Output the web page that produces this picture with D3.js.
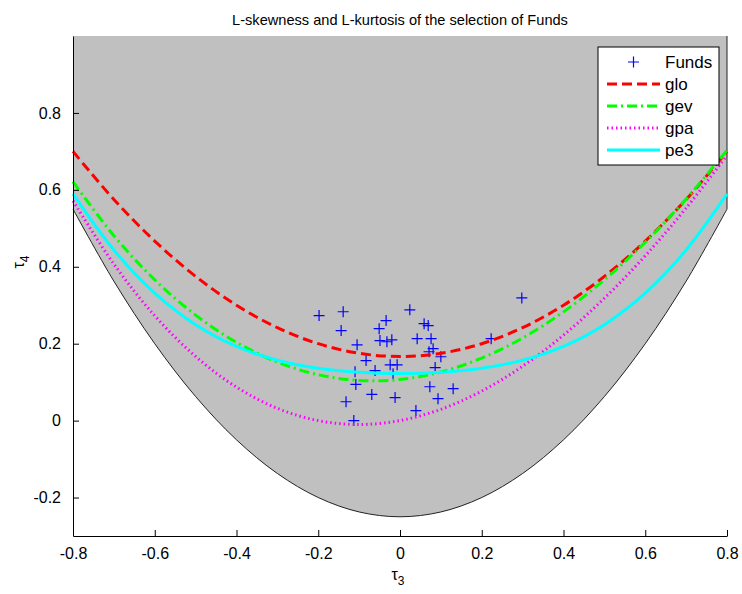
<!DOCTYPE html>
<html><head><meta charset="utf-8">
<script src="https://cdn.jsdelivr.net/npm/d3@7"></script>
<style>
body{margin:0;background:#fff;}
text{font-family:"Liberation Sans Narrow","Liberation Sans",Arial,sans-serif;fill:#000;}
</style></head>
<body><svg id="c" width="742" height="594"></svg>
<script>
// tau3 grid for the theoretical curves
const tau3Grid = [-0.8,-0.7,-0.6,-0.5,-0.4,-0.3,-0.2,-0.1,0,0.1,0.2,0.3,0.4,0.5,0.6,0.7,0.8];
// lower bound of tau4
const boundVals = [0.55,0.3625,0.2,0.0625,-0.05,-0.1375,-0.2,-0.2375,-0.25,-0.2375,-0.2,-0.1375,-0.05,0.0625,0.2,0.3625,0.55];
const gloVals = [0.7,0.575,0.4667,0.375,0.3,0.2417,0.2,0.175,0.1667,0.175,0.2,0.2417,0.3,0.375,0.4667,0.575,0.7];
const gevVals = [0.6214,0.4808,0.3661,0.2743,0.2034,0.1521,0.1193,0.1045,0.1070,0.1265,0.1626,0.2148,0.2827,0.3659,0.4638,0.5762,0.7030];
const gpaVals = [0.5714,0.4070,0.2727,0.1667,0.0870,0.0319,0.0,-0.0102,0.0,0.0294,0.0769,0.1415,0.2222,0.3182,0.4286,0.5526,0.6897];
const pe3Vals = [0.5894,0.4436,0.3314,0.2494,0.1929,0.1569,0.1359,0.1255,0.1224,0.1255,0.1359,0.1569,0.1929,0.2494,0.3314,0.4436,0.5894];
// Funds sample L-moment ratios
const fundsT3 = [-0.198,-0.139,-0.144,-0.105,-0.034,-0.051,0.024,0.059,0.069,-0.049,-0.032,-0.020,0.042,0.076,0.081,0.071,0.100,-0.083,-0.024,-0.007,0.086,0.223,0.298,-0.110,-0.061,-0.017,-0.108,-0.069,-0.012,0.073,0.130,-0.132,0.093,0.039,-0.113];
const fundsT4 = [0.273,0.283,0.234,0.197,0.260,0.239,0.288,0.252,0.247,0.208,0.205,0.210,0.213,0.213,0.187,0.179,0.166,0.156,0.145,0.145,0.138,0.213,0.319,0.127,0.130,0.122,0.094,0.068,0.060,0.088,0.083,0.049,0.057,0.026,0.000];
const xTicks = [-0.8,-0.6,-0.4,-0.2,0,0.2,0.4,0.6,0.8];
const yTicks = [-0.2,0,0.2,0.4,0.6,0.8];
const series = [
  {name:"glo", vals:gloVals, color:"#ff0000", width:3, dash:"10,5"},
  {name:"gev", vals:gevVals, color:"#00ff00", width:3, dash:"10,4,2,4"},
  {name:"gpa", vals:gpaVals, color:"#ff00ff", width:3, dash:"1.5,3"},
  {name:"pe3", vals:pe3Vals, color:"#00ffff", width:3, dash:null}
];

const FONT = '"Liberation Sans Narrow","Liberation Sans",Arial,sans-serif';
const svg = d3.select("#c");
const L=73, R=727, T=36, B=536;
const x = d3.scaleLinear().domain([-0.8,0.8]).range([L,R]);
const y = d3.scaleLinear().domain([-0.3,1.0]).range([B,T]);

// gray feasible region
const pts = tau3Grid.map((t,i)=>[t,boundVals[i]]);
const curveLine = d3.line().x(d=>x(d[0])).y(d=>y(d[1])).curve(d3.curveCatmullRom);
const boundPath = curveLine(pts);
svg.append("path")
  .attr("d", boundPath + `L${x(0.8)},${y(1.0)}L${x(-0.8)},${y(1.0)}Z`)
  .attr("fill","#c0c0c0").attr("stroke","none");
svg.append("path").attr("d", boundPath + `L${x(0.8)},${y(1.0)}`)
  .attr("fill","none").attr("stroke","#222").attr("stroke-width",1);

// funds markers
const g = svg.append("g");
fundsT3.forEach((t,i)=>{
  const cx=x(t), cy=y(fundsT4[i]);
  g.append("path").attr("d",`M${cx-5.5},${cy}H${cx+5.5}M${cx},${cy-5.5}V${cy+5.5}`)
   .attr("stroke","#0000ff").attr("stroke-width",1.2).attr("fill","none");
});

// curves
series.forEach(s=>{
  const p = svg.append("path").datum(tau3Grid.map((t,i)=>[t,s.vals[i]]))
    .attr("d",curveLine).attr("fill","none").attr("stroke",s.color)
    .attr("stroke-width",s.width);
  if(s.dash) p.attr("stroke-dasharray",s.dash);
});

// axes
const fmt = d=>String(+d.toFixed(1));
const xAxis = d3.axisBottom(x).tickValues(xTicks).tickSizeInner(-6).tickSizeOuter(0).tickPadding(12).tickFormat(fmt);
const gx = svg.append("g").attr("transform",`translate(0,${B})`).call(xAxis);
const yAxis = d3.axisLeft(y).tickValues(yTicks).tickSizeInner(-6).tickSizeOuter(0).tickPadding(12).tickFormat(fmt);
const gy = svg.append("g").attr("transform",`translate(${L},0)`).call(yAxis);
[gx,gy].forEach(a=>{
  a.selectAll("text").attr("font-size",16).style("font-family",FONT).attr("fill","#000");
  a.select(".domain").attr("stroke","#000");
  a.selectAll(".tick line").attr("stroke","#000");
});
gx.selectAll("text").attr("dy","0.71em");

// labels
svg.append("text").attr("x",400).attr("y",25).attr("text-anchor","middle").attr("font-size",14.6)
  .text("L-skewness and L-kurtosis of the selection of Funds");
const xl = svg.append("text").attr("x",398).attr("y",580).attr("text-anchor","middle").attr("font-size",16);
xl.append("tspan").text("τ");
xl.append("tspan").attr("dy",5).attr("font-size",12).text("3");
const yl = svg.append("text").attr("transform","translate(24,262) rotate(-90)").attr("text-anchor","middle").attr("font-size",16);
yl.append("tspan").text("τ");
yl.append("tspan").attr("dy",5).attr("font-size",12).text("4");

// legend
const lg = svg.append("g");
lg.append("rect").attr("x",598).attr("y",47).attr("width",121).attr("height",118)
  .attr("fill","#fff").attr("stroke","#000").attr("stroke-width",1);
const items = [{name:"Funds"}].concat(series);
items.forEach((s,i)=>{
  const yy = 62 + i*22;
  if(i===0){
    lg.append("path").attr("d",`M${628},${yy}H${639}M${633.5},${yy-5.5}V${yy+5.5}`)
      .attr("stroke","#0000ff").attr("stroke-width",1.2);
  } else {
    const p = lg.append("line").attr("x1",607).attr("x2",660).attr("y1",yy).attr("y2",yy)
      .attr("stroke",s.color).attr("stroke-width",s.width);
    if(s.dash) p.attr("stroke-dasharray",s.dash);
  }
  lg.append("text").attr("x",665).attr("y",yy+6).attr("font-size",17).text(s.name);
});
</script></body></html>
